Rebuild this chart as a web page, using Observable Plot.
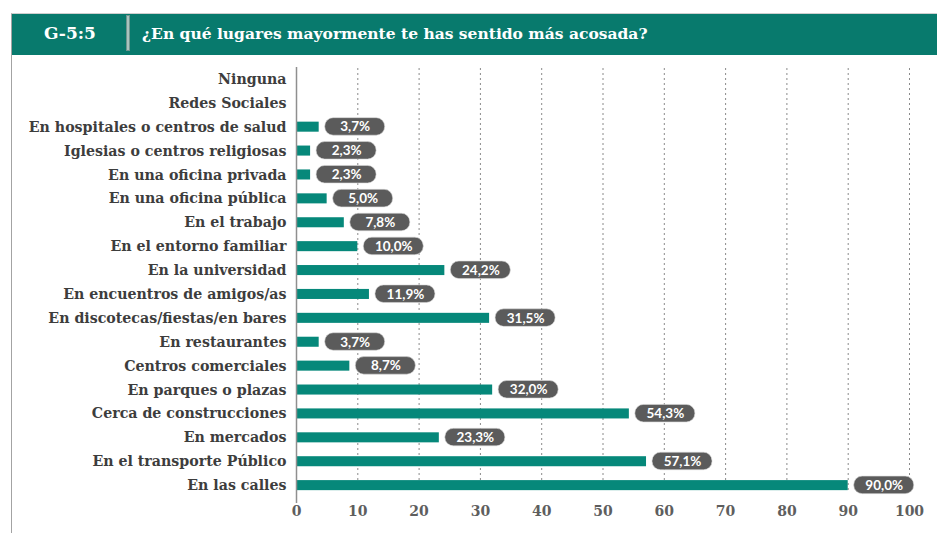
<!DOCTYPE html>
<html>
<head>
<meta charset="utf-8">
<script src="https://cdn.jsdelivr.net/npm/d3@7"></script>
<script src="https://cdn.jsdelivr.net/npm/@observablehq/plot@0.6"></script>
<style>
  html, body { margin: 0; padding: 0; background: #ffffff; }
  #wrap { position: relative; width: 937px; height: 533px; overflow: hidden; background: #fff; }
  #frame { position: absolute; left: 11px; top: 13px; right: 0; bottom: 0;
           border-left: 1.5px solid #a3a3a3; border-top: 1px solid #cfcfcf; z-index: 3; pointer-events: none; }
  #header { position: absolute; left: 12px; top: 14px; width: 925px; height: 41px; background: #087a6d; z-index: 2;
            font-family: "DejaVu Serif", serif; font-weight: bold; color: #ffffff; }
  #code { position: absolute; left: 32px; top: 9px; font-size: 17px; }
  #sep { position: absolute; left: 114px; top: 1px; width: 2px; height: 34px; background: #a9c4bf; border: 1px solid #6f958f; }
  #title { position: absolute; left: 130px; top: 9.5px; font-size: 15.5px; white-space: nowrap; }
  #chart { position: absolute; left: 0; top: 55px; z-index: 1; }
</style>
</head>
<body>
<div id="wrap">
  <div id="header">
    <div id="code">G-5:5</div>
    <div id="sep"></div>
    <div id="title">¿En qué lugares mayormente te has sentido más acosada?</div>
  </div>
  <div id="chart"></div>
  <div id="frame"></div>
</div>
<script>
const categories = [
  "Ninguna",
  "Redes Sociales",
  "En hospitales o centros de salud",
  "Iglesias o centros religiosas",
  "En una oficina privada",
  "En una oficina pública",
  "En el trabajo",
  "En el entorno familiar",
  "En la universidad",
  "En encuentros de amigos/as",
  "En discotecas/fiestas/en bares",
  "En restaurantes",
  "Centros comerciales",
  "En parques o plazas",
  "Cerca de construcciones",
  "En mercados",
  "En el transporte Público",
  "En las calles"
];
const values = [null, null, 3.7, 2.3, 2.3, 5.0, 7.8, 10.0, 24.2, 11.9, 31.5, 3.7, 8.7, 32.0, 54.3, 23.3, 57.1, 90.0];
const xTicks = [0, 10, 20, 30, 40, 50, 60, 70, 80, 90, 100];
const gridTicks = [10, 20, 30, 40, 50, 60, 70, 80, 90, 100];

const data = categories.map((c, i) => ({cat: c, value: values[i]}));
const labelled = data.filter(d => d.value != null);
const fmt = v => v.toFixed(1).replace(".", ",") + "%";

const serif = "DejaVu Serif";

const chart = Plot.plot({
  width: 937,
  height: 478,
  marginLeft: 296,
  marginRight: 28,
  marginTop: 5,
  marginBottom: 29,
  style: {background: "transparent", overflow: "visible"},
  x: {domain: [0, 100]},
  y: {type: "band", domain: categories, padding: 0.58, round: false},
  marks: [
    Plot.ruleX(gridTicks, {stroke: "#8a8a8a", strokeWidth: 1, strokeDasharray: "2,3", insetTop: 8, insetBottom: 11}),
    Plot.barX(labelled, {x: "value", y: "cat", fill: "#06887a"}),
    Plot.ruleX([0], {stroke: "#8f8f8f", strokeWidth: 1.5, insetTop: 7, insetBottom: 1}),
    Plot.barX(labelled, {x1: "value", x2: "value", y: "cat", insetLeft: 6, insetRight: -66,
      insetTop: -4, insetBottom: -3.5, rx: 8.5, fill: "#5b5b5b", stroke: "#d9d9d9", strokeWidth: 0.6}),
    Plot.text(labelled, {x: "value", y: "cat", dx: 36, text: d => fmt(d.value), fill: "#ffffff",
      fontWeight: "bold", fontFamily: "Lato, sans-serif", fontSize: 13.5}),
    Plot.axisY({tickSize: 0, tickPadding: 10, fontSize: 14.2, fontFamily: serif, fontWeight: "bold", color: "#3d3d3d", label: null}),
    Plot.axisX({ticks: xTicks, tickSize: 0, tickPadding: 2, fontSize: 14, fontFamily: serif, fontWeight: "bold", color: "#5e5e5e", label: null, tickFormat: d => String(d)})
  ]
});
document.getElementById("chart").appendChild(chart);
</script>
</body>
</html>
